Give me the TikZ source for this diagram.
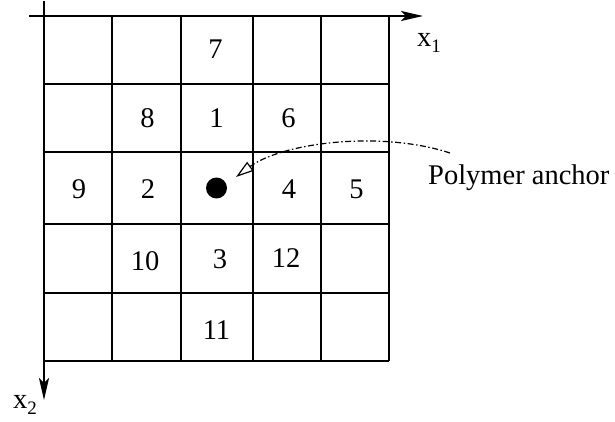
\documentclass[tikz,border=0pt]{standalone}
\usepackage{fontspec}
\setmainfont{Liberation Serif}
\usetikzlibrary{arrows.meta}
\begin{document}
\begin{tikzpicture}[x=1pt,y=-1pt,
  gridline/.style={line width=2.2pt},
  axisline/.style={line width=2.2pt,-{Stealth[length=22pt,width=10pt,inset=5pt]}},
  cellnum/.style={inner sep=0pt,font=\fontsize{28.5}{30}\selectfont},
  lbl/.style={inner sep=0pt,font=\fontsize{28.5}{30}\selectfont},
  pointer/.style={line width=1.2pt,dash pattern=on 6pt off 2.5pt on 1.5pt off 2.5pt,-{Triangle[open,length=18pt,width=11pt,fill=white,line width=1.2pt]}}]
\useasboundingbox (0,0) rectangle (615,422);
% grid
\foreach \x in {44,112,181,253,321,389} \draw[gridline] (\x,16) -- (\x,361);
\foreach \y in {16,84,152,224,293,361} \draw[gridline] (44,\y) -- (389,\y);
% axes
\coordinate (hstart) at (29,16);
\coordinate (hend) at (423,16);
\coordinate (vstart) at (44,1);
\coordinate (vend) at (44,400);
\draw[axisline] (hstart) -- (hend);
\draw[axisline] (vstart) -- (vend);
\node[lbl,anchor=base west] (x1) at (417,47) {x\raisebox{-6pt}{\fontsize{19}{20}\selectfont 1}};
\node[lbl,anchor=base west] (x2) at (13,408) {x\raisebox{-6pt}{\fontsize{19}{20}\selectfont 2}};
% numbers
\node[cellnum] (n7) at (215.5,49.5) {7};
\node[cellnum] (n8) at (147.5,118.5) {8};
\node[cellnum] (n1) at (216.5,118.5) {1};
\node[cellnum] (n6) at (288.5,118.5) {6};
\node[cellnum] (n9) at (79,189.5) {9};
\node[cellnum] (n2) at (148,189.5) {2};
\node[cellnum] (n4) at (289,189.5) {4};
\node[cellnum] (n5) at (356.5,189.5) {5};
\node[cellnum] (n10) at (145,261) {10};
\node[cellnum] (n3) at (220,259) {3};
\node[cellnum] (n12) at (286,258) {12};
\node[cellnum] (n11) at (216.5,330) {11};
% anchor dot
\node[circle,fill=black,inner sep=0pt,minimum size=21pt] (dot) at (216.5,188) {};
\node[lbl,anchor=base west] (poly) at (428,185) {Polymer anchor};
\coordinate (pstart) at (450,153);
\coordinate (ptip) at (236,177);
\draw[pointer] (pstart) .. controls (380,130) and (282,143) .. (ptip);
\end{tikzpicture}
\end{document}
